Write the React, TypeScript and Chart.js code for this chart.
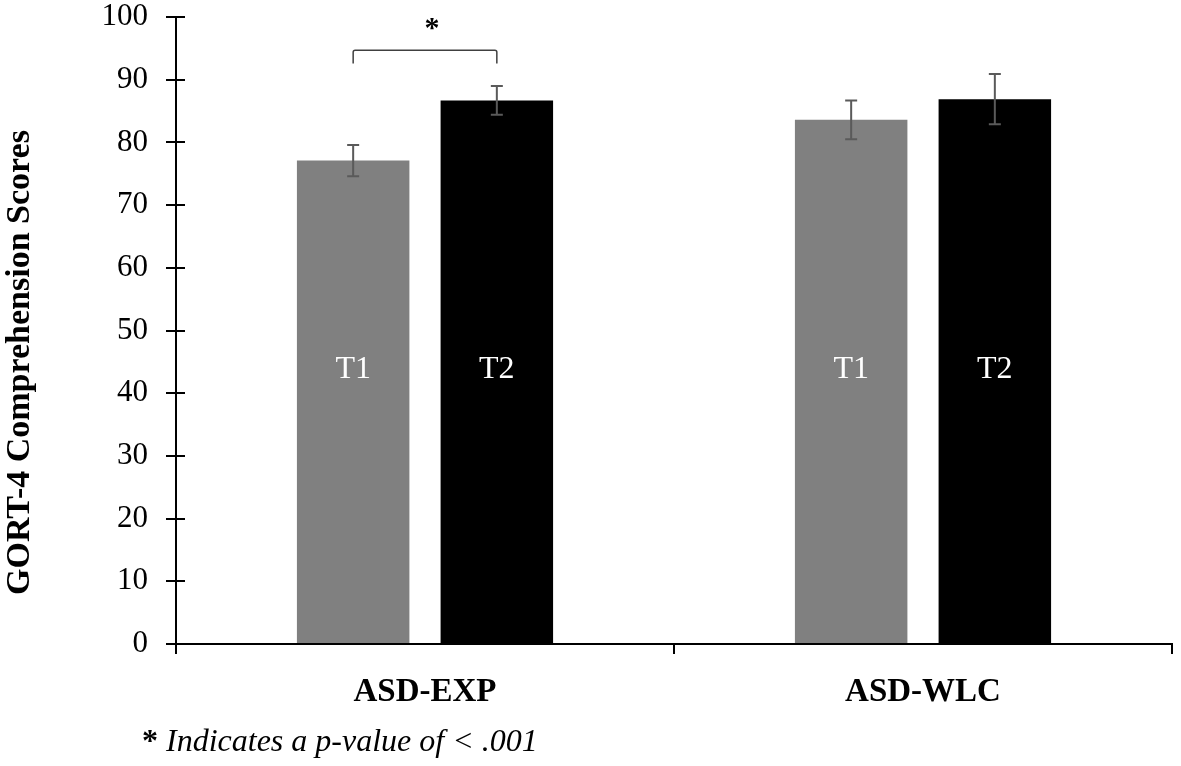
import React, { useEffect, useRef } from "react";
import { Chart, registerables } from "chart.js";

Chart.register(...registerables);

const categories = ["ASD-EXP", "ASD-WLC"];
const seriesNames = ["T1", "T2"];
const t1Values = [77.1, 83.6];
const t2Values = [86.7, 86.9];
const t1Errors = [2.5, 3.1];
const t2Errors = [2.3, 4.0];
const seriesColors = ["#808080", "#000000"];
const yMin = 0;
const yMax = 100;
const yStep = 10;
const barLabelValue = 43.7;
const sigCategoryIndex = 0;
const sigBracketValue = 94.7;
const sigBracketDropValue = 92.6;
const sigStarValue = 98.0;
const sigLabel = "*";
const yTitle = "GORT-4 Comprehension Scores";
const footnoteMark = "* ";
const footnoteText = "Indicates a p-value of < .001";

const SERIF = '"Liberation Serif", "Times New Roman", Times, serif';

const overlayPlugin = {
  id: "overlay",
  afterDatasetsDraw(chart: any) {
    const ctx = chart.ctx;
    const y = chart.scales.y;
    const errs = [t1Errors, t2Errors];
    const vals = [t1Values, t2Values];
    ctx.save();
    for (let d = 0; d < 2; d++) {
      const meta = chart.getDatasetMeta(d);
      meta.data.forEach((el: any, j: number) => {
        const v = vals[d][j];
        const e = errs[d][j];
        const yt = y.getPixelForValue(v + e);
        const yb = y.getPixelForValue(v - e);
        ctx.strokeStyle = "#5a5a5a";
        ctx.lineWidth = 2;
        ctx.beginPath();
        ctx.moveTo(el.x, yt);
        ctx.lineTo(el.x, yb);
        ctx.moveTo(el.x - 6, yt);
        ctx.lineTo(el.x + 6, yt);
        ctx.moveTo(el.x - 6, yb);
        ctx.lineTo(el.x + 6, yb);
        ctx.stroke();
        ctx.fillStyle = "#ffffff";
        ctx.font = `32px ${SERIF}`;
        ctx.textAlign = "center";
        ctx.textBaseline = "middle";
        ctx.fillText(seriesNames[d], el.x, y.getPixelForValue(barLabelValue));
      });
    }
    const x0 = chart.getDatasetMeta(0).data[sigCategoryIndex].x;
    const x1 = chart.getDatasetMeta(1).data[sigCategoryIndex].x;
    const yb = y.getPixelForValue(sigBracketValue);
    const yd = y.getPixelForValue(sigBracketDropValue);
    ctx.strokeStyle = "#404040";
    ctx.lineWidth = 1.5;
    ctx.beginPath();
    ctx.moveTo(x0, yd);
    ctx.lineTo(x0, yb + 2);
    ctx.quadraticCurveTo(x0, yb, x0 + 2, yb);
    ctx.lineTo(x1 - 2, yb);
    ctx.quadraticCurveTo(x1, yb, x1, yb + 2);
    ctx.lineTo(x1, yd);
    ctx.stroke();
    ctx.fillStyle = "#000000";
    ctx.font = `bold 30px ${SERIF}`;
    ctx.textAlign = "center";
    ctx.textBaseline = "middle";
    ctx.fillText(sigLabel, (x0 + x1) / 2 + 7, y.getPixelForValue(sigStarValue));
    ctx.restore();
  },
  afterDraw(chart: any) {
    const ctx = chart.ctx;
    const y = chart.scales.y;
    const area = chart.chartArea;
    ctx.save();
    ctx.strokeStyle = "#000000";
    ctx.lineWidth = 2;
    ctx.beginPath();
    for (let v = yMin; v <= yMax; v += yStep) {
      const py = Math.round(y.getPixelForValue(v));
      ctx.moveTo(area.left, py);
      ctx.lineTo(area.left + 9, py);
    }
    ctx.stroke();
    ctx.save();
    ctx.translate(20, (area.top + area.bottom) / 2 + 32);
    ctx.rotate(-Math.PI / 2);
    ctx.fillStyle = "#000000";
    ctx.font = `bold 34px ${SERIF}`;
    ctx.textAlign = "center";
    ctx.textBaseline = "middle";
    ctx.fillText(yTitle, 0, 0);
    ctx.restore();
    const fx = area.left - 34;
    const fy = chart.scales.x.top + 107;
    ctx.fillStyle = "#000000";
    ctx.textAlign = "left";
    ctx.textBaseline = "alphabetic";
    ctx.font = `bold 32px ${SERIF}`;
    ctx.fillText(footnoteMark, fx, fy);
    const w = ctx.measureText(footnoteMark).width;
    ctx.font = `italic 32px ${SERIF}`;
    ctx.fillText(footnoteText, fx + w, fy);
    ctx.restore();
  },
};

export default function App() {
  const canvasRef = useRef<HTMLCanvasElement | null>(null);

  useEffect(() => {
    document.body.style.margin = "0";
    const canvas = canvasRef.current;
    if (!canvas) return;
    const chart = new Chart(canvas, {
      type: "bar",
      data: {
        labels: categories,
        datasets: [
          {
            label: seriesNames[0],
            data: t1Values,
            backgroundColor: seriesColors[0],
            categoryPercentage: 0.577,
            barPercentage: 0.783,
          },
          {
            label: seriesNames[1],
            data: t2Values,
            backgroundColor: seriesColors[1],
            categoryPercentage: 0.577,
            barPercentage: 0.783,
          },
        ],
      },
      options: {
        animation: false,
        responsive: true,
        maintainAspectRatio: false,
        layout: { padding: { top: 17, right: 9, bottom: 0, left: 0 } },
        plugins: {
          legend: { display: false },
          tooltip: { enabled: false },
          title: { display: false },
        },
        scales: {
          x: {
            grid: {
              offset: true,
              drawOnChartArea: false,
              drawTicks: true,
              tickLength: 10,
              color: "#000000",
              lineWidth: 2,
            },
            border: { color: "#000000", width: 2 },
            ticks: {
              color: "#000000",
              padding: 19,
              font: { family: SERIF, size: 33, weight: "bold" },
            },
            afterFit(scale: any) {
              scale.height = 122;
              scale.paddingLeft = 0;
              scale.paddingRight = 0;
            },
          },
          y: {
            min: yMin,
            max: yMax,
            grid: {
              drawOnChartArea: false,
              drawTicks: true,
              tickLength: 10,
              color: "#000000",
              lineWidth: 2,
            },
            border: { color: "#000000", width: 2 },
            ticks: {
              stepSize: yStep,
              color: "#000000",
              padding: 18,
              font: { family: SERIF, size: 31, lineHeight: 1.1 },
            },
            afterFit(scale: any) {
              scale.width = 176;
              scale.paddingTop = 0;
              scale.paddingBottom = 0;
            },
          },
        },
      },
      plugins: [overlayPlugin],
    });
    return () => chart.destroy();
  }, []);

  return (
    <div style={{ width: "1181px", height: "766px", position: "relative" }}>
      <canvas ref={canvasRef} />
    </div>
  );
}
